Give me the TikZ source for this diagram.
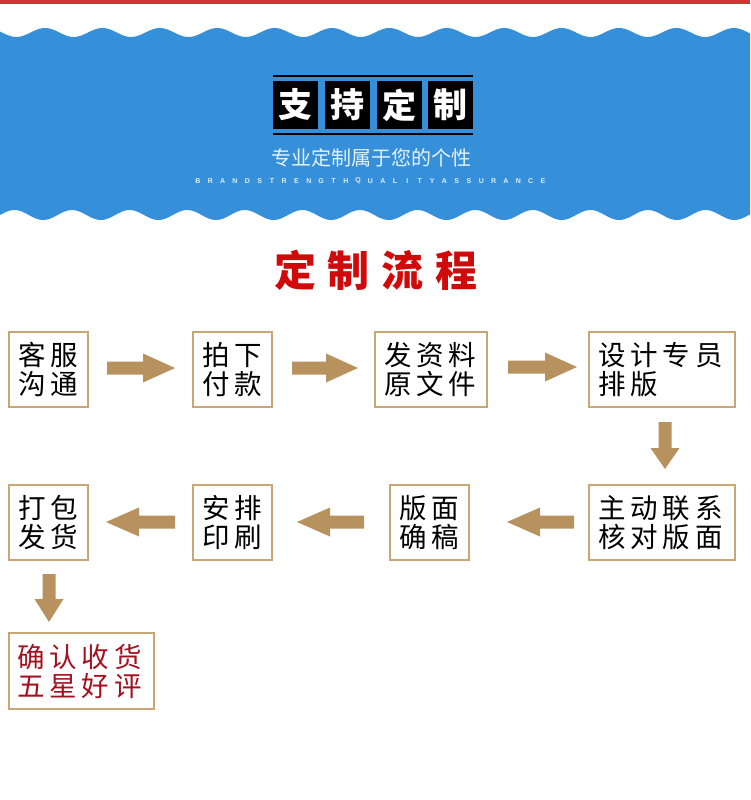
\documentclass[tikz,border=0pt]{standalone}
\usepackage{fontspec}
\newfontfamily\cjk{Noto Sans CJK SC}
\setsansfont{Liberation Sans}
\definecolor{blueband}{HTML}{3590D9}
\definecolor{redline}{HTML}{D43434}
\definecolor{arrowc}{HTML}{B8925E}
\definecolor{boxc}{HTML}{C9A676}
\definecolor{titlered}{HTML}{D00A0A}
\definecolor{darkred}{HTML}{A5101F}
\newcommand\gp{\kern5pt}
\newcommand\tgp{\kern12pt}
\tikzset{
  pics/barrow/.style 2 args={code={
    \fill[arrowc] (0,-6.5) -- ({#1-#2},-6.5) -- ({#1-#2},-14.5) -- (#1,0)
      -- ({#1-#2},14.5) -- ({#1-#2},6.5) -- (0,6.5) -- cycle;}},
  stepbox/.style={draw=boxc, line width=2pt, fill=white, align=left,
    inner xsep=9pt, inner ysep=0pt, minimum height=75pt,
    font=\cjk\fontsize{27.5}{29}\selectfont},
  tbox/.style={fill=black, text=white, minimum width=45pt, minimum height=48pt,
    inner sep=0pt, font=\cjk\bfseries\fontsize{34}{34}\selectfont},
}
\begin{document}
\begin{tikzpicture}[x=1pt,y=-1pt]
\useasboundingbox (0,0) rectangle (750,800);
\fill[white] (0,0) rectangle (750,800);
% top red line
\fill[redline] (0,0) rectangle (750,4.5);
% blue band with wavy edges
\fill[blueband] plot[domain=0:750,samples=300] (\x,{32.5-4.5*cos(6.2718*(\x-45))})
  -- plot[domain=750:0,samples=300] (\x,{215-5*cos(6.25*(\x-72))}) -- cycle;
% title boxes
\draw[line width=2.2pt] (273,76) -- (473,76);
\draw[line width=2.2pt] (273,134) -- (473,134);
\node[tbox] (t1) at (295.5,105) {支};
\node[tbox] (t2) at (347.5,105) {持};
\node[tbox] (t3) at (399.5,105) {定};
\node[tbox] (t4) at (450.5,105) {制};
\node[text=white, opacity=0.88, font=\cjk\fontsize{20}{20}\selectfont, inner sep=0pt] (sub) at (371,158) {专业定制属于您的个性};
\foreach \c [count=\i] in {B,R,A,N,D,S,T,R,E,N,G,T,H,Q,U,A,L,I,T,Y,A,S,S,U,R,A,N,C,E}
  \node[text=white, opacity=0.85, font=\sffamily\bfseries\fontsize{7}{7}\selectfont, inner sep=0pt] (l\i) at ({198+(\i-1)*12.32},181) {\c};
% red heading
\node[text=titlered, font=\cjk\bfseries\fontsize{42}{42}\selectfont, inner sep=0pt] (head) at (376,270) {定\tgp 制\tgp 流\tgp 程};
% row 1
\node[stepbox, minimum width=79pt, text width=61pt] (b1) at (48.5,369.5) {客\gp 服\\沟\gp 通};
\node[stepbox, minimum width=79pt, text width=61pt] (b2) at (232.5,369.5) {拍\gp 下\\付\gp 款};
\node[stepbox, minimum width=112pt, text width=94pt] (b3) at (431,369.5) {发\gp 资\gp 料\\原\gp 文\gp 件};
\node[stepbox, minimum width=146pt, text width=128pt] (b4) at (662,369.5) {设\gp 计\gp 专\gp 员\\排\gp 版};
% row 2
\node[stepbox, minimum width=79pt, text width=61pt] (c1) at (48.5,522.5) {打\gp 包\\发\gp 货};
\node[stepbox, minimum width=79pt, text width=61pt] (c2) at (232.5,522.5) {安\gp 排\\印\gp 刷};
\node[stepbox, minimum width=79pt, text width=61pt] (c3) at (429.5,522.5) {版\gp 面\\确\gp 稿};
\node[stepbox, minimum width=146pt, text width=128pt] (c4) at (662,522.5) {主\gp 动\gp 联\gp 系\\核\gp 对\gp 版\gp 面};
% final
\node[stepbox, minimum width=145pt, text width=129pt, inner xsep=8pt, minimum height=76pt, text=darkred] (f) at (81.5,671) {确\gp 认\gp 收\gp 货\\五\gp 星\gp 好\gp 评};
% arrows
\pic at (107,368) {barrow={68}{32}};
\pic at (292,368) {barrow={66}{32}};
\pic at (508,367) {barrow={69}{32}};
\pic[rotate=-90] at (665,422) {barrow={47}{21}};
\pic[rotate=180] at (175,522) {barrow={69}{33}};
\pic[rotate=180] at (364,522) {barrow={67}{33}};
\pic[rotate=180] at (574,522) {barrow={67}{33}};
\pic[rotate=-90] at (49,574) {barrow={48}{23}};
\end{tikzpicture}
\end{document}
